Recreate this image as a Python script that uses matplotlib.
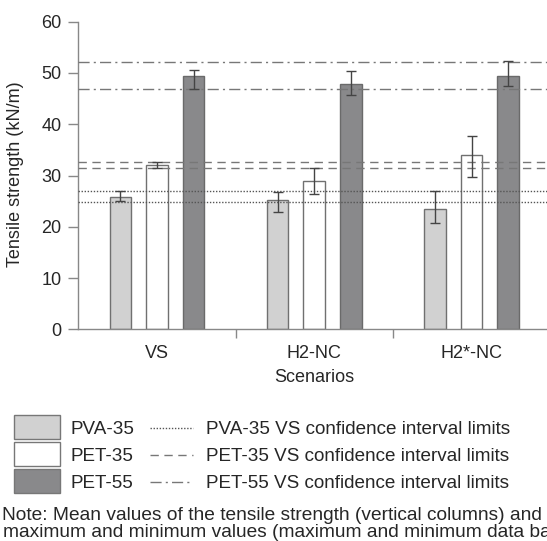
import matplotlib
matplotlib.use("Agg")
import matplotlib.pyplot as plt
from matplotlib.patches import Rectangle
from matplotlib.lines import Line2D
import numpy as np

plt.rcParams['font.family'] = ['Liberation Sans', 'DejaVu Sans']

scenarios = ["VS", "H2-NC", "H2*-NC"]
series = ["PVA-35", "PET-35", "PET-55"]
pva35_mean = [25.9, 25.3, 23.4]
pva35_min = [25.0, 22.9, 20.8]
pva35_max = [27.0, 26.7, 27.0]
pet35_mean = [32.0, 28.9, 34.0]
pet35_min = [31.4, 26.4, 29.8]
pet35_max = [32.6, 31.4, 37.8]
pet55_mean = [49.4, 47.8, 49.5]
pet55_min = [46.8, 45.7, 47.4]
pet55_max = [50.6, 50.4, 52.3]
pva35_ci = [24.8, 27.0]
pet35_ci = [31.4, 32.7]
pet55_ci = [46.8, 52.1]
yticks = [0, 10, 20, 30, 40, 50, 60]
note_lines = ["Note: Mean values of the tensile strength (vertical columns) and the",
              "maximum and minimum values (maximum and minimum data bars)"]

W, H = 547, 541
fig = plt.figure(figsize=(W / 100, H / 100), dpi=100)
txt = '#262626'

def fx(px):
    return px / W

def fy(py):
    return 1 - py / H

ax_left, ax_bottom, ax_top = 78.3, 329.3, 21.7
cat_w = 157.3
ax = fig.add_axes([fx(ax_left), fy(ax_bottom), 1 - fx(ax_left), fy(ax_top) - fy(ax_bottom)])
ax.set_ylim(0, 60)
ax.set_xlim(-0.5, (W - ax_left) / cat_w - 0.5)
ppu = (ax_bottom - ax_top) / 60.0

fills = ['#d1d1d1', '#ffffff', '#89898b']
edges = ['#707070', '#707070', '#6a6a6a']
means = [pva35_mean, pet35_mean, pet55_mean]
mins = [pva35_min, pet35_min, pet55_min]
maxs = [pva35_max, pet35_max, pet55_max]
offsets = [-0.233, 0.0, 0.233]
x = np.arange(len(scenarios))
for i in range(3):
    m = np.array(means[i])
    lo = m - np.array(mins[i])
    hi = np.array(maxs[i]) - m
    ax.bar(x + offsets[i], m, width=0.137, color=fills[i], edgecolor=edges[i],
           linewidth=1.0, zorder=2)
    ax.errorbar(x + offsets[i], m, yerr=[lo, hi], fmt='none', ecolor='#444444',
                elinewidth=1.0, capsize=3.3, capthick=1.0, zorder=4)

for v in pva35_ci:
    ax.axhline(v, color='#555555', linestyle=(0, (1, 1.2)), linewidth=1.0, zorder=3)
for v in pet35_ci:
    ax.axhline(v, color='#777777', linestyle=(0, (6, 4)), linewidth=1.0, zorder=3)
for v in pet55_ci:
    ax.axhline(v, color='#777777', linestyle=(0, (8, 3, 1.5, 3)), linewidth=1.0, zorder=3)

for s in ['top', 'right']:
    ax.spines[s].set_visible(False)
for s in ['left', 'bottom']:
    ax.spines[s].set_color('#888888')
    ax.spines[s].set_linewidth(1.0)

ax.set_yticks(yticks)
ax.set_yticklabels([str(t) for t in yticks], fontsize=13, color=txt)
ax.tick_params(axis='y', length=7.2, width=1.0, color='#888888', pad=5)
ax.set_xticks([0.5, 1.5])
ax.set_xticklabels([])
ax.tick_params(axis='x', length=6.5, width=1.0, color='#888888')
for i, s in enumerate(scenarios):
    ax.text(i, -(358.5 - ax_bottom) / ppu, s, ha='center', va='baseline', fontsize=13,
            color=txt)
ax.text(1, -(382.5 - ax_bottom) / ppu, "Scenarios", ha='center', va='baseline',
        fontsize=13, color=txt)

fig.text(fx(15.5), fy(174), "Tensile strength (kN/m)", rotation=90, ha='center',
         va='center', fontsize=13, color=txt)

# Legend (manual)
rows_y = [427, 454, 481]
styles = [(0, (1, 1.2)), (0, (6, 4)), (0, (8, 3, 1.5, 3))]
lcols = ['#555555', '#777777', '#777777']
for i in range(3):
    yc = rows_y[i]
    fig.add_artist(Rectangle((fx(14), fy(yc + 12)), fx(46), fy(yc - 12) - fy(yc + 12),
                             transform=fig.transFigure, facecolor=fills[i],
                             edgecolor='#777777', linewidth=1.0))
    fig.text(fx(70), fy(yc + 7.3), series[i], ha='left', va='baseline', fontsize=13.6,
             color=txt)
    fig.add_artist(Line2D([fx(150), fx(193)], [fy(yc + 1), fy(yc + 1)],
                          transform=fig.transFigure,
                          color=lcols[i], linestyle=styles[i], linewidth=1.0))
    fig.text(fx(206), fy(yc + 7.3), series[i] + " VS confidence interval limits",
             ha='left', va='baseline', fontsize=13.6, color=txt)

fig.text(fx(2), fy(520), note_lines[0], ha='left', va='baseline', fontsize=13.8,
         color=txt)
fig.text(fx(3), fy(537.3), note_lines[1], ha='left', va='baseline', fontsize=13.8,
         color=txt)

fig.savefig("out.png", dpi=100)
